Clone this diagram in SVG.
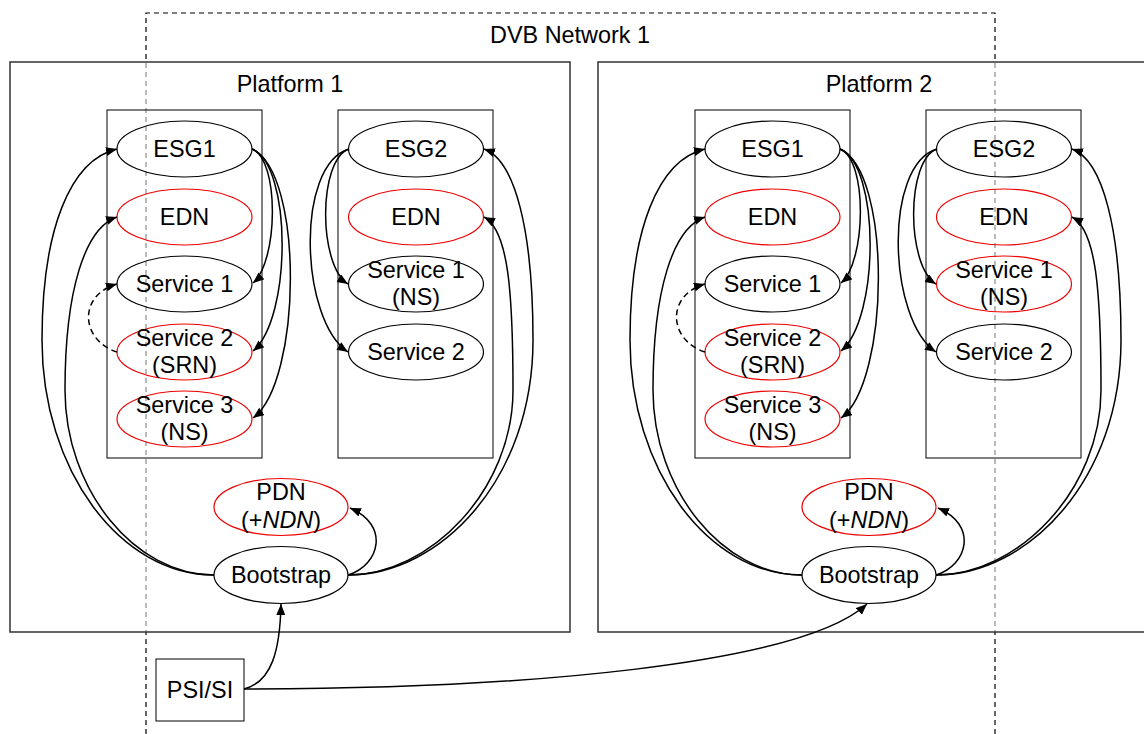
<svg xmlns="http://www.w3.org/2000/svg" width="1144" height="734" viewBox="0 0 1144 734">
<style>
text{font-family:"Liberation Sans",Arial,sans-serif;font-size:23.4px;fill:#000;text-anchor:middle}
.plat{fill:#fff;fill-opacity:0.55;stroke:#333;stroke-width:1.5}
.col{fill:none;stroke:#000;stroke-width:1}
.blk{fill:none;stroke:#000;stroke-width:1.2}
.red{fill:none;stroke:#e00;stroke-width:1.2}
.net{fill:none;stroke:#000;stroke-width:1.2;stroke-dasharray:5,4}
.e{fill:none;stroke:#000;stroke-width:1.5;marker-end:url(#ah)}
.d{fill:none;stroke:#000;stroke-width:1.5;stroke-dasharray:6,4;marker-end:url(#ah)}
</style>
<defs>
<marker id="ah" markerUnits="userSpaceOnUse" markerWidth="12" markerHeight="10" refX="11" refY="4.5" orient="auto">
<path d="M0,0 L11,4.5 L0,9 z" fill="#000"/>
</marker>
</defs>
<rect width="1144" height="734" fill="#fff"/>
<g id="network">
<path class="net" d="M146,734 L146,13 L995,13 L995,734"/>
<text x="570" y="43">DVB Network 1</text>
</g>
<g id="platform1">
<rect class="plat" x="10" y="62" width="560" height="570"/>
<text x="290" y="92">Platform 1</text>
<rect class="col" x="107" y="110" width="155" height="348"/>
<rect class="col" x="338" y="110" width="155" height="348"/>
</g>
<g id="platform2">
<rect class="plat" x="598" y="62" width="560" height="570"/>
<text x="879" y="92">Platform 2</text>
<rect class="col" x="695" y="110" width="155" height="348"/>
<rect class="col" x="926" y="110" width="155" height="348"/>
</g>
<g id="p1-esg1"><ellipse class="blk" cx="184.5" cy="149" rx="67.5" ry="28"/><text x="184.5" y="157">ESG1</text></g>
<g id="p1-edn1"><ellipse class="red" cx="184.5" cy="217" rx="67.5" ry="28"/><text x="184.5" y="225">EDN</text></g>
<g id="p1-s1"><ellipse class="blk" cx="184.5" cy="284" rx="67.5" ry="28"/><text x="184.5" y="292">Service 1</text></g>
<g id="p1-s2"><ellipse class="red" cx="184.5" cy="352" rx="67.5" ry="28"/><text x="184.5" y="346">Service 2</text><text x="184.5" y="373">(SRN)</text></g>
<g id="p1-s3"><ellipse class="red" cx="184.5" cy="419" rx="67.5" ry="28"/><text x="184.5" y="413">Service 3</text><text x="184.5" y="440">(NS)</text></g>
<g id="p1-esg2"><ellipse class="blk" cx="416" cy="149" rx="67.5" ry="28"/><text x="416" y="157">ESG2</text></g>
<g id="p1-edn2"><ellipse class="red" cx="416" cy="217" rx="67.5" ry="28"/><text x="416" y="225">EDN</text></g>
<g id="p1-s1b"><ellipse class="blk" cx="416" cy="284" rx="67.5" ry="28"/><text x="416" y="278">Service 1</text><text x="416" y="305">(NS)</text></g>
<g id="p1-s2b"><ellipse class="blk" cx="416" cy="352" rx="67.5" ry="28"/><text x="416" y="360">Service 2</text></g>
<g id="p1-pdn"><ellipse class="red" cx="281" cy="507" rx="67" ry="28.5"/><text x="281" y="500">PDN</text><text x="281" y="528">(+<tspan font-style="italic">NDN</tspan>)</text></g>
<g id="p1-bootstrap"><ellipse class="blk" cx="281" cy="575" rx="67" ry="28.5"/><text x="281" y="583">Bootstrap</text></g>
<g id="p2-esg1"><ellipse class="blk" cx="772.5" cy="149" rx="67.5" ry="28"/><text x="772.5" y="157">ESG1</text></g>
<g id="p2-edn1"><ellipse class="red" cx="772.5" cy="217" rx="67.5" ry="28"/><text x="772.5" y="225">EDN</text></g>
<g id="p2-s1"><ellipse class="blk" cx="772.5" cy="284" rx="67.5" ry="28"/><text x="772.5" y="292">Service 1</text></g>
<g id="p2-s2"><ellipse class="red" cx="772.5" cy="352" rx="67.5" ry="28"/><text x="772.5" y="346">Service 2</text><text x="772.5" y="373">(SRN)</text></g>
<g id="p2-s3"><ellipse class="red" cx="772.5" cy="419" rx="67.5" ry="28"/><text x="772.5" y="413">Service 3</text><text x="772.5" y="440">(NS)</text></g>
<g id="p2-esg2"><ellipse class="blk" cx="1004" cy="149" rx="67.5" ry="28"/><text x="1004" y="157">ESG2</text></g>
<g id="p2-edn2"><ellipse class="red" cx="1004" cy="217" rx="67.5" ry="28"/><text x="1004" y="225">EDN</text></g>
<g id="p2-s1b"><ellipse class="red" cx="1004" cy="284" rx="67.5" ry="28"/><text x="1004" y="278">Service 1</text><text x="1004" y="305">(NS)</text></g>
<g id="p2-s2b"><ellipse class="blk" cx="1004" cy="352" rx="67.5" ry="28"/><text x="1004" y="360">Service 2</text></g>
<g id="p2-pdn"><ellipse class="red" cx="869" cy="507" rx="67" ry="28.5"/><text x="869" y="500">PDN</text><text x="869" y="528">(+<tspan font-style="italic">NDN</tspan>)</text></g>
<g id="p2-bootstrap"><ellipse class="blk" cx="869" cy="575" rx="67" ry="28.5"/><text x="869" y="583">Bootstrap</text></g>
<g id="psisi"><rect class="col" x="156" y="659" width="88" height="62"/><text x="200" y="698">PSI/SI</text></g>
<g id="connectors">
<path class="e" d="M252,149 C280,160 278,262 253,283"/>
<path class="e" d="M252,149 C292,165 292,318 253,351"/>
<path class="e" d="M252,149 C304,172 302,382 253,418"/>
<path class="d" d="M117,352 C80,340 78,295 117,284"/>
<path class="e" d="M214,575 C120,575 42,470 42,340 C42,230 70,160 117,149"/>
<path class="e" d="M214,575 C135,575 65,490 65,390 C65,290 85,228 117,217"/>
<path class="e" d="M348,575 C440,575 533,480 533,340 C533,230 515,160 484,149"/>
<path class="e" d="M348,575 C430,575 513,490 513,390 C513,290 508,230 484,217"/>
<path class="e" d="M348,575 C380,565 390,525 350,508"/>
<path class="e" d="M349,149 C318,160 318,265 348,284"/>
<path class="e" d="M349,149 C295,165 300,320 348,352"/>
<path class="e" d="M840,149 C868,160 866,262 841,283"/>
<path class="e" d="M840,149 C880,165 880,318 841,351"/>
<path class="e" d="M840,149 C892,172 890,382 841,418"/>
<path class="d" d="M705,352 C668,340 666,295 705,284"/>
<path class="e" d="M802,575 C708,575 630,470 630,340 C630,230 658,160 705,149"/>
<path class="e" d="M802,575 C723,575 653,490 653,390 C653,290 673,228 705,217"/>
<path class="e" d="M936,575 C1028,575 1121,480 1121,340 C1121,230 1103,160 1072,149"/>
<path class="e" d="M936,575 C1018,575 1101,490 1101,390 C1101,290 1096,230 1072,217"/>
<path class="e" d="M936,575 C968,565 978,525 938,508"/>
<path class="e" d="M937,149 C906,160 906,265 936,284"/>
<path class="e" d="M937,149 C883,165 888,320 936,352"/>
<path class="e" d="M244,689 C272,682 280,650 281,604"/>
<path class="e" d="M244,689 C520,689 800,665 867,604"/>
</g>
</svg>
